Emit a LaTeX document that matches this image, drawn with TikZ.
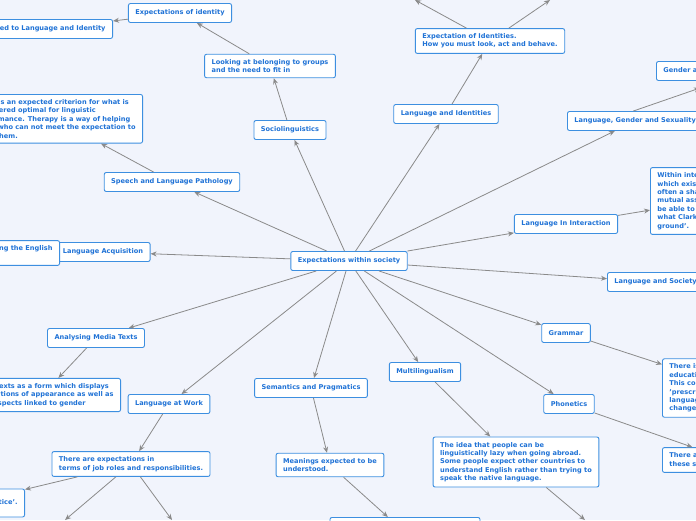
\documentclass[tikz,border=0pt]{standalone}
\usepackage{fontspec}
\setmainfont{DejaVu Sans}
\usetikzlibrary{arrows.meta}
\definecolor{bgblue}{HTML}{F1F4FC}
\definecolor{boxline}{HTML}{3D8FE0}
\definecolor{boxtext}{HTML}{1F72D6}
\definecolor{linkgray}{HTML}{8A8A8A}
\begin{document}
\begin{tikzpicture}[x=1pt,y=-1pt,>={Stealth[length=6pt,width=5pt]}]
		\tikzset{topic/.style={draw=boxline,fill=white,rounded corners=2pt,line width=0.9pt,
		  text=boxtext,font=\fontsize{6.6}{8.4}\selectfont\bfseries,inner xsep=7pt,minimum height=19pt}}
		\tikzset{note/.style={topic,align=left,inner ysep=5pt}}
		\tikzset{link/.style={draw=linkgray,line width=0.8pt,->}}

		\path[use as bounding box,fill=bgblue] (0,0) rectangle (696,520);
		\clip (0,0) rectangle (696,520);

		\node[topic](society) at (349,261){Expectations within society};

		\node[topic](socio) at (290,130){Sociolinguistics};
		\node[note](belong) at (270,66){Looking at belonging to groups\\and the need to fit in};
		\node[topic](expid) at (180,13){Expectations of identity};
		\node[topic,anchor=east](linked) at (113,29){Linked to Language and Identity};

		\node[topic](speech) at (172,182){Speech and Language Pathology};
		\node[note,anchor=north east](criterion) at (143,94){There is an expected criterion for what is\\considered optimal for linguistic\\performance. Therapy is a way of helping\\those who can not meet the expectation to\\meet them.};

		\node[topic](acq) at (103,252){Language Acquisition};
		\node[note,anchor=east](english) at (60,253){Children learning the English\\language.};

		\node[topic](media) at (96,338){Analysing Media Texts};
		\node[note,anchor=east](mediatext) at (121,395){Media texts as a form which displays\\expectations of appearance as well as\\other aspects linked to gender};

		\node[topic](work) at (169,404){Language at Work};
		\node[note](jobs) at (131,464){There are expectations in\\terms of job roles and responsibilities.};
		\node[note,anchor=east,minimum height=28pt](practice) at (25,503){'Communities of practice'.};
		\coordinate(jobsA) at (65,520);
		\coordinate(jobsB) at (172,520);

		\node[topic](sem) at (311,388){Semantics and Pragmatics};
		\node[note](meanings) at (330,465){Meanings expected to be\\understood.};
		\node[topic,anchor=north,minimum width=150pt,minimum height=30pt](below) at (405,517){};

		\node[topic](multi) at (425,372){Multilingualism};
		\node[note](lazy) at (516,462){The idea that people can be\\linguistically lazy when going abroad.\\Some people expect other countries to\\understand English rather than trying to\\speak the native language.};
		\coordinate(lazyend) at (585,520);

		\node[topic](grammar) at (566,333){Grammar};
		\node[note,anchor=west](gramtext) at (662,388){There is an expectation in\\education to use standard English.\\This could be considered\\'prescriptivism' where\\language is not allowed to\\change.};

		\node[topic](phon) at (569,404){Phonetics};
		\node[note,anchor=west](phontext) at (662,460){There are expected accents and\\these stereotypes.};

		\node[topic](identities) at (446,114){Language and Identities};
		\node[note](look) at (490,41){Expectation of Identities.\\How you must look, act and behave.};
		\coordinate(lookA) at (415,0);
		\coordinate(lookB) at (550,0);

		\node[topic,anchor=west](gender) at (567,121){Language, Gender and Sexuality};
		\node[topic,anchor=west](gendertop) at (656,71){Gender and Sexuality};
		\coordinate(genderend) at (700,88);

		\node[topic](inter) at (566,224){Language In Interaction};
		\node[note,anchor=west](common) at (650,201){Within interaction,\\which exists there is\\often a shared and\\mutual assumption to\\be able to understand\\what Clark calls 'common\\ground'.};

		\node[topic,anchor=west](socbranch) at (607,282){Language and Society};

		% branches from the centre
		\foreach \t in {socio,speech,acq,media,work,sem,multi,grammar,phon,identities,gender,inter,socbranch}
		{
		  \draw[link] (society) -- (\t);
		}

		% sub topics
		\draw[link] (socio) -- (belong);
		\draw[link] (belong) -- (expid);
		\draw[link] (expid) -- (linked);
		\draw[link] (speech) -- (criterion);
		\draw[link] (media) -- (mediatext);
		\draw[link] (work) -- (jobs);
		\draw[link] (jobs) -- (practice);
		\draw[link] (jobs) -- (jobsA);
		\draw[link] (jobs) -- (jobsB);
		\draw[link] (sem) -- (meanings);
		\draw[link] (meanings) -- (below);
		\draw[link] (multi) -- (lazy);
		\draw[link] (lazy) -- (lazyend);
		\draw[link] (grammar) -- (gramtext);
		\draw[link] (phon) -- (phontext);
		\draw[link] (identities) -- (look);
		\draw[link] (look) -- (lookA);
		\draw[link] (look) -- (lookB);
		\draw[link] (gender.north east) ++(-70,0) -- (genderend);
		\draw[link] (inter) -- (common);
\end{tikzpicture}
\end{document}
